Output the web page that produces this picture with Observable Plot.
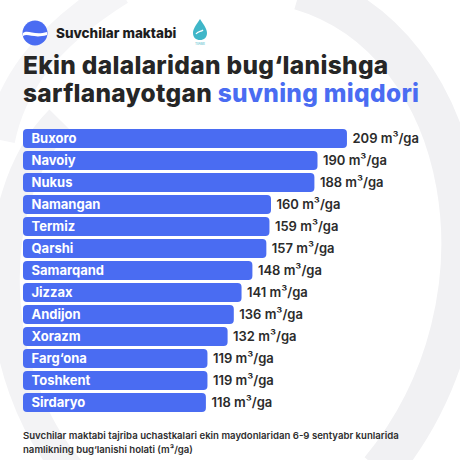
<!DOCTYPE html>
<html>
<head>
<meta charset="utf-8">
<script src="https://cdn.jsdelivr.net/npm/d3@7"></script>
<script src="https://cdn.jsdelivr.net/npm/@observablehq/plot@0.6"></script>
<style>
  html, body { margin: 0; padding: 0; }
  body { width: 460px; height: 460px; overflow: hidden; background: #ffffff; position: relative; font-family: Inter, "Open Sans", sans-serif; }
  #bg { position: absolute; left: 0; top: 0; }
  #brand { position: absolute; left: 22px; top: 20px; height: 26px; display: flex; align-items: center; }
  #brand .name { font-weight: 800; font-size: 13.5px; color: #1e1e1e; margin-left: 8px; letter-spacing: 0px; }
  #drop { position: absolute; left: 192px; top: 18px; }
  #title { position: absolute; left: 23px; top: 51px; font-weight: 800; font-size: 24.5px; line-height: 28px; color: #262626; letter-spacing: 0.3px; }
  #title .hl { color: #4a6cf2; }
  #chart { position: absolute; left: 0; top: 116px; }
  #caption { position: absolute; left: 23px; top: 429px; font-size: 9.6px; font-weight: 600; line-height: 14px; color: #2e2e2e; }
</style>
</head>
<body>
<svg id="bg" width="460" height="460">
  <path d="M300,-10 C470,40 520,300 380,470" fill="none" stroke="#f1f1f3" stroke-width="40"/>
  <path d="M60,120 C-20,200 -10,380 70,470" fill="none" stroke="#f3f3f5" stroke-width="30"/>
  <path d="M120,-10 C40,40 10,90 0,140" fill="none" stroke="#f5f5f7" stroke-width="30"/>
</svg>
<div id="brand">
  <svg width="26" height="26" viewBox="0 0 26 26">
    <circle cx="13" cy="13" r="12.5" fill="#4a6cf2"/>
    <path d="M1,13 C6,9 12,16 25,12 L25,15 C12,19 6,13 1,16 Z" fill="#ffffff"/>
  </svg>
  <span class="name">Suvchilar maktabi</span>
</div>
<svg id="drop" width="16" height="28" viewBox="0 0 16 28">
  <path d="M8,1 C12,7 15,11 15,15 C15,19.5 12,22 8,22 C4,22 1,19.5 1,15 C1,11 4,7 8,1 Z" fill="#3fb6c8"/>
  <path d="M4,16 C6,13 9,14 11,12" fill="none" stroke="#ffffff" stroke-width="1.3"/>
  <text x="8" y="26.5" font-size="3" text-anchor="middle" fill="#3fb6c8">TIIAME</text>
</svg>
<div id="title">Ekin dalalaridan bug‘lanishga<br>sarflanayotgan <span class="hl">suvning miqdori</span></div>
<div id="chart"></div>
<div id="caption">Suvchilar maktabi tajriba uchastkalari ekin maydonlaridan 6-9 sentyabr kunlarida<br>namlikning bug‘lanishi holati (m³/ga)</div>
<script>
const regions = ["Buxoro","Navoiy","Nukus","Namangan","Termiz","Qarshi","Samarqand","Jizzax","Andijon","Xorazm","Farg‘ona","Toshkent","Sirdaryo"];
const values = [209,190,188,160,159,157,148,141,136,132,119,119,118];
const unit = "m³/ga";

const data = regions.map((r, i) => ({region: r, value: values[i]}));

const chart = Plot.plot({
  width: 460,
  height: 310,
  marginTop: 8,
  marginBottom: 8,
  marginLeft: 23,
  marginRight: 49.5,
  style: {background: "transparent", fontFamily: "Inter, 'Open Sans', sans-serif"},
  x: {domain: [0, 250], axis: null},
  y: {domain: regions, axis: null, paddingInner: 0.13, paddingOuter: 0},
  marks: [
    Plot.barX(data, {y: "region", x: "value", fill: "#4a6cf2", rx: 4}),
    Plot.text(data, {y: "region", x: 0, text: "region", dx: 8, textAnchor: "start", fill: "#ffffff", fontWeight: 700, fontSize: 13}),
    Plot.text(data, {y: "region", x: "value", text: d => `${d.value} ${unit}`, dx: 5, textAnchor: "start", fill: "#2b2b2b", fontWeight: 600, fontSize: 13})
  ]
});
document.getElementById("chart").appendChild(chart);
</script>
</body>
</html>
